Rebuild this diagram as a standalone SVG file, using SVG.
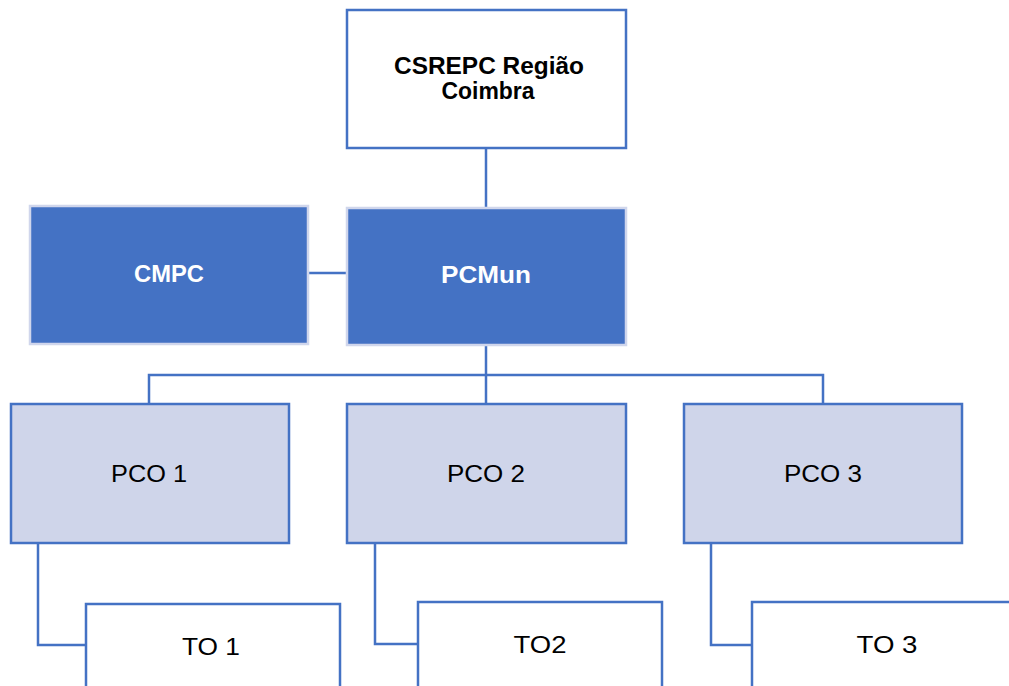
<svg xmlns="http://www.w3.org/2000/svg" width="1009" height="686" viewBox="0 0 1009 686">
<style>
.box{stroke:#4472C4;stroke-width:2.5}
.white{fill:#FFFFFF}
.dark{fill:#4472C4;stroke:#D0D6EC;stroke-width:2.5}
.light{fill:#CFD5EA}
.conn{fill:none;stroke:#4472C4;stroke-width:2.5}
text{font-family:"Liberation Sans",Arial,sans-serif;text-anchor:middle}
.b{font-weight:bold}
.t{font-size:24px;fill:#000000}
.w{fill:#FFFFFF}
</style>
<rect width="1009" height="686" fill="#FFFFFF"/>
<g id="connectors">
<line class="conn" x1="486" y1="148" x2="486" y2="208"/>
<line class="conn" x1="308" y1="273" x2="347" y2="273"/>
<line class="conn" x1="486" y1="345" x2="486" y2="404"/>
<polyline class="conn" points="149,404 149,375 823,375 823,404"/>
<polyline class="conn" points="38,543 38,645 86,645"/>
<polyline class="conn" points="375,543 375,644 418,644"/>
<polyline class="conn" points="711,543 711,645 752,645"/>
</g>
<g id="csrepc">
<rect class="box white" x="347" y="10" width="279" height="138"/>
<text class="b" font-size="23" x="489" y="74" textLength="190" lengthAdjust="spacingAndGlyphs">CSREPC Região</text>
<text class="b" font-size="23" x="488" y="99" textLength="93" lengthAdjust="spacingAndGlyphs">Coimbra</text>
</g>
<g id="cmpc">
<rect class="dark" x="30" y="206" width="278" height="138"/>
<text class="b w" font-size="23" x="169" y="282" textLength="70" lengthAdjust="spacingAndGlyphs">CMPC</text>
</g>
<g id="pcmun">
<rect class="dark" x="347" y="208" width="279" height="137"/>
<text class="b w" font-size="23" x="486" y="283" textLength="90" lengthAdjust="spacingAndGlyphs">PCMun</text>
</g>
<g id="pco1">
<rect class="box light" x="11" y="404" width="278" height="139"/>
<text class="t" x="149" y="482" textLength="76" lengthAdjust="spacingAndGlyphs">PCO 1</text>
</g>
<g id="pco2">
<rect class="box light" x="347" y="404" width="279" height="139"/>
<text class="t" x="486" y="482" textLength="78" lengthAdjust="spacingAndGlyphs">PCO 2</text>
</g>
<g id="pco3">
<rect class="box light" x="684" y="404" width="278" height="139"/>
<text class="t" x="823" y="482" textLength="78" lengthAdjust="spacingAndGlyphs">PCO 3</text>
</g>
<g id="to1">
<rect class="box white" x="86" y="604" width="254" height="100"/>
<text class="t" x="211" y="655" textLength="58" lengthAdjust="spacingAndGlyphs">TO 1</text>
</g>
<g id="to2">
<rect class="box white" x="418" y="602" width="244" height="100"/>
<text class="t" x="540" y="653" textLength="53" lengthAdjust="spacingAndGlyphs">TO2</text>
</g>
<g id="to3">
<rect class="box white" x="752" y="602" width="280" height="100"/>
<text class="t" x="887" y="653" textLength="61" lengthAdjust="spacingAndGlyphs">TO 3</text>
</g>
</svg>
